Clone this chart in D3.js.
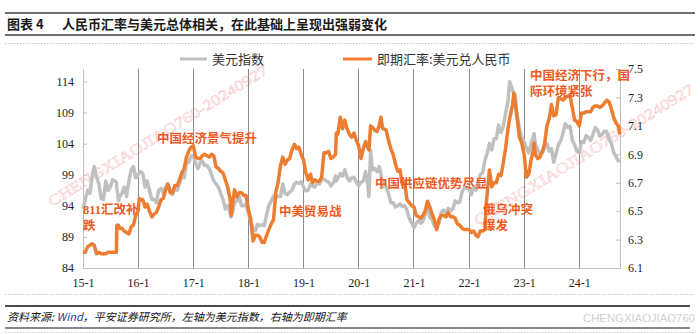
<!DOCTYPE html>
<html><head><meta charset="utf-8">
<script src="https://cdn.jsdelivr.net/npm/d3@7/dist/d3.min.js"></script>
<style>
html,body{margin:0;padding:0;background:#fff;}
svg{display:block;}
</style></head>
<body>
<svg id="c" width="700" height="334"></svg>
<script>
// ---- data ----
const dates = [
"2015-01-01","2015-01-16","2015-02-01","2015-02-16","2015-03-01","2015-03-16","2015-04-01","2015-04-16","2015-05-01","2015-05-16","2015-06-01","2015-06-16","2015-07-01","2015-07-16","2015-08-01","2015-08-10","2015-08-13","2015-08-24","2015-09-01","2015-09-16","2015-10-01","2015-10-16","2015-11-01","2015-11-16","2015-12-01","2015-12-16",
"2016-01-01","2016-01-08","2016-01-16","2016-02-01","2016-02-16","2016-03-01","2016-03-16","2016-04-01","2016-04-16","2016-05-01","2016-05-16","2016-06-01","2016-06-16","2016-07-01","2016-07-16","2016-08-01","2016-08-16","2016-09-01","2016-09-16","2016-10-01","2016-10-16","2016-11-01","2016-11-16","2016-12-01","2016-12-16",
"2017-01-01","2017-01-16","2017-02-01","2017-02-16","2017-03-01","2017-03-16","2017-04-01","2017-04-16","2017-05-01","2017-05-16","2017-06-01","2017-06-16","2017-07-01","2017-07-16","2017-08-01","2017-08-16","2017-09-01","2017-09-08","2017-09-16","2017-10-01","2017-10-16","2017-11-01","2017-11-16","2017-12-01","2017-12-16",
"2018-01-01","2018-01-16","2018-02-01","2018-02-16","2018-03-01","2018-03-16","2018-04-01","2018-04-16","2018-05-01","2018-05-16","2018-06-01","2018-06-16","2018-07-01","2018-07-16","2018-08-01","2018-08-16","2018-09-01","2018-09-16","2018-10-01","2018-10-16","2018-11-01","2018-11-16","2018-12-01","2018-12-16",
"2019-01-01","2019-01-16","2019-02-01","2019-02-16","2019-03-01","2019-03-16","2019-04-01","2019-04-16","2019-05-01","2019-05-16","2019-06-01","2019-06-16","2019-07-01","2019-07-16","2019-08-01","2019-08-06","2019-08-16","2019-09-01","2019-09-16","2019-10-01","2019-10-16","2019-11-01","2019-11-16","2019-12-01","2019-12-16",
"2020-01-01","2020-01-16","2020-02-01","2020-02-16","2020-03-01","2020-03-09","2020-03-20","2020-04-01","2020-04-16","2020-05-01","2020-05-16","2020-05-27","2020-06-08","2020-06-16","2020-07-01","2020-07-16","2020-08-01","2020-08-16","2020-09-01","2020-09-16","2020-10-01","2020-10-16","2020-11-01","2020-11-16","2020-12-01","2020-12-16",
"2021-01-01","2021-01-16","2021-02-01","2021-02-16","2021-03-01","2021-03-16","2021-04-01","2021-04-16","2021-05-01","2021-05-16","2021-06-01","2021-06-16","2021-07-01","2021-07-16","2021-08-01","2021-08-16","2021-09-01","2021-09-16","2021-10-01","2021-10-16","2021-11-01","2021-11-16","2021-12-01","2021-12-16",
"2022-01-01","2022-01-16","2022-02-01","2022-02-16","2022-03-01","2022-03-16","2022-04-01","2022-04-16","2022-04-25","2022-05-01","2022-05-16","2022-06-01","2022-06-16","2022-07-01","2022-07-16","2022-08-01","2022-08-16","2022-09-01","2022-09-16","2022-09-27","2022-10-16","2022-10-25","2022-11-01","2022-11-16","2022-12-01","2022-12-16",
"2023-01-01","2023-01-16","2023-02-01","2023-02-16","2023-03-01","2023-03-08","2023-03-16","2023-04-01","2023-04-16","2023-05-01","2023-05-16","2023-06-01","2023-06-16","2023-07-01","2023-07-16","2023-08-01","2023-08-16","2023-09-01","2023-09-16","2023-10-01","2023-10-16","2023-11-01","2023-11-16","2023-12-01","2023-12-16",
"2024-01-01","2024-01-16","2024-02-01","2024-02-16","2024-03-01","2024-03-16","2024-04-01","2024-04-16","2024-05-01","2024-05-16","2024-06-01","2024-06-16","2024-07-01","2024-07-16","2024-08-01","2024-08-16","2024-09-01","2024-09-16","2024-09-27"
];
// 美元指数 (left axis)
const dollarIndex = [
93.5,95.0,96.5,96.0,98.5,100.3,98.6,97.5,95.2,95.0,98.0,96.5,97.0,98.2,98.0,97.8,97.0,94.8,95.5,96.0,97.0,95.5,98.0,99.8,100.3,98.5,
99.0,99.3,99.5,99.2,97.0,98.0,96.5,95.0,95.0,94.5,96.5,96.8,96.0,97.0,97.5,96.5,95.8,96.8,96.5,97.5,99.0,98.5,100.8,101.0,102.0,
102.0,100.8,100.0,101.0,101.2,100.5,100.5,100.0,99.0,98.0,97.5,97.0,96.0,95.0,93.5,94.0,93.0,92.2,92.8,94.5,94.8,95.5,94.0,94.0,94.3,
92.8,91.5,90.3,90.0,91.0,90.8,91.0,90.8,92.6,94.0,94.8,95.6,95.7,95.5,95.5,97.5,96.0,95.8,96.2,96.5,97.5,97.8,97.6,97.9,
97.0,96.4,96.5,97.5,97.2,97.0,97.8,97.5,98.2,98.3,98.0,97.8,97.2,97.6,98.8,98.0,98.4,99.2,98.8,99.8,98.6,98.0,98.5,98.6,97.8,
97.2,97.8,98.0,99.5,97.5,95.5,102.9,99.8,100.0,99.5,100.3,99.2,97.0,98.0,97.0,96.0,94.5,94.5,93.8,94.0,94.3,93.9,94.0,93.3,92.0,91.3,
90.5,91.2,91.6,91.2,91.5,92.5,93.8,92.2,91.8,90.8,90.6,91.2,93.0,93.3,92.8,93.6,93.2,93.5,94.8,94.5,94.6,96.3,96.8,96.9,
96.6,95.8,97.0,96.5,97.8,99.0,99.3,101.3,102.0,102.5,104.0,103.0,104.8,104.8,107.0,105.8,106.8,109.0,110.8,114.0,112.6,112.0,112.0,108.5,106.5,105.0,
104.3,103.3,102.5,104.0,105.0,105.6,104.0,103.0,102.2,102.5,103.3,104.0,102.8,103.2,101.0,102.5,103.8,104.5,105.8,107.2,106.6,106.8,104.6,103.8,102.8,
102.5,104.3,104.2,105.3,105.0,104.5,105.5,106.6,106.2,105.2,105.5,106.0,105.9,104.8,104.0,102.6,101.9,101.2,101.3
];
// 即期汇率:美元兑人民币 (right axis)
const usdCny = [
6.21,6.21,6.25,6.26,6.27,6.26,6.20,6.21,6.20,6.20,6.20,6.21,6.21,6.21,6.21,6.21,6.40,6.40,6.38,6.38,6.36,6.35,6.34,6.39,6.40,6.47,
6.50,6.59,6.58,6.58,6.53,6.55,6.50,6.46,6.48,6.49,6.53,6.58,6.59,6.65,6.69,6.63,6.63,6.68,6.68,6.72,6.77,6.80,6.88,6.92,6.95,
6.96,6.88,6.87,6.87,6.89,6.90,6.89,6.88,6.90,6.89,6.81,6.80,6.78,6.77,6.72,6.67,6.59,6.47,6.54,6.65,6.60,6.63,6.63,6.61,6.61,
6.51,6.44,6.29,6.33,6.33,6.32,6.28,6.28,6.33,6.37,6.41,6.44,6.63,6.70,6.82,6.88,6.83,6.86,6.87,6.93,6.97,6.94,6.95,6.90,
6.86,6.77,6.72,6.76,6.70,6.72,6.71,6.71,6.74,6.91,6.91,6.92,6.87,6.88,6.90,7.05,7.04,7.16,7.08,7.14,7.08,7.04,7.02,7.05,7.00,
6.96,6.87,6.94,6.99,6.95,6.93,7.10,7.09,7.07,7.06,7.10,7.16,7.08,7.08,7.07,7.00,6.94,6.90,6.83,6.78,6.79,6.69,6.70,6.58,6.56,6.54,
6.53,6.47,6.46,6.45,6.47,6.50,6.57,6.53,6.48,6.44,6.37,6.44,6.47,6.47,6.46,6.49,6.46,6.46,6.45,6.41,6.40,6.38,6.37,6.37,
6.37,6.35,6.36,6.33,6.32,6.36,6.36,6.37,6.55,6.62,6.79,6.67,6.70,6.70,6.76,6.75,6.84,6.95,7.08,7.15,7.25,7.33,7.28,7.15,7.02,6.98,
6.90,6.74,6.76,6.86,6.92,6.98,6.90,6.87,6.88,6.92,6.97,7.10,7.15,7.25,7.17,7.18,7.30,7.29,7.28,7.30,7.31,7.31,7.23,7.14,7.13,
7.10,7.19,7.19,7.20,7.20,7.20,7.23,7.24,7.24,7.23,7.24,7.26,7.28,7.27,7.22,7.16,7.12,7.10,7.04
];
const leftTicks = [84, 89, 94, 99, 104, 109, 114];
const rightTicks = [6.1, 6.3, 6.5, 6.7, 6.9, 7.1, 7.3, 7.5];
const yearTicks = ["2015-01-01","2016-01-01","2017-01-01","2018-01-01","2019-01-01","2020-01-01","2021-01-01","2022-01-01","2023-01-01","2024-01-01"];
const seriesNames = ["美元指数", "即期汇率:美元兑人民币"];
const titleLabel = "图表 4";
const titleText = "人民币汇率与美元总体相关，在此基础上呈现出强弱变化";
const sourceText = ["资料来源: ", "Wind", "，平安证券研究所，左轴为美元指数，右轴为即期汇率"];
const noteTexts = [["811汇改补","跌"],["中国经济景气提升"],["中美贸易战"],["中国供应链优势尽显"],["俄乌冲突","爆发"],["中国经济下行，国","际环境紧张"]];

// ---- layout ----
const noteAnchors = [[83,209],[157,138],[279,211],[375,183],[483,209],[530,75]];
const P = {left:83, right:620, top:69, bottom:268};
const GRAY = "#c0c0c0", ORANGE = "#ED7D31", NOTE = "#EF5A22";
const CJK = "'Noto Sans CJK SC', sans-serif";
const SERIF = "'Liberation Serif', 'Noto Sans CJK SC', serif";

const parse = d3.timeParse("%Y-%m-%d");
const rows = dates.map((d,i)=>({date:parse(d), dxy:dollarIndex[i], cny:usdCny[i]}));

const svg = d3.select("#c");
const x = d3.scaleTime().domain([parse("2015-01-01"), parse("2024-09-27")]).range([P.left, P.right]);
const yL = d3.scaleLinear().domain([84, 116]).range([P.bottom, P.top]);
const yR = d3.scaleLinear().domain([6.1, 7.5]).range([P.bottom, P.top]);

// header
svg.append("line").attr("x1",5).attr("x2",695).attr("y1",13).attr("y2",13).attr("stroke","#6e6e6e").attr("stroke-width",2);
svg.append("line").attr("x1",5).attr("x2",695).attr("y1",35).attr("y2",35).attr("stroke","#6e6e6e").attr("stroke-width",2);
svg.append("line").attr("x1",5).attr("x2",695).attr("y1",43.5).attr("y2",43.5).attr("stroke","#c8c8c8").attr("stroke-width",1).attr("stroke-dasharray","1.5,1.5");
svg.append("text").attr("x",7).attr("y",29).attr("font-family",CJK).attr("font-weight","bold").attr("font-size",13).attr("fill","#1a1a1a").text(titleLabel);
svg.append("text").attr("x",62).attr("y",29).attr("font-family",CJK).attr("font-weight","bold").attr("font-size",13).attr("fill","#1a1a1a").text(titleText);

// watermarks
[[52,207],[478,226]].forEach(([wx,wy])=>{
  svg.append("text").attr("transform",`translate(${wx},${wy}) rotate(-31.7)`)
    .attr("font-family","'Liberation Serif', serif").attr("font-size",15)
    .attr("textLength",255).attr("lengthAdjust","spacingAndGlyphs")
    .attr("fill","#fff2f2").attr("stroke","#f7c4c4").attr("stroke-width",0.4)
    .text("CHENGXIAOJIAO760-20240927");
});

// gridlines
svg.append("g").selectAll("line").data(yearTicks.slice(1).map(parse)).join("line")
  .attr("x1",d=>x(d)).attr("x2",d=>x(d)).attr("y1",P.top).attr("y2",P.bottom)
  .attr("stroke","#8c8c8c").attr("stroke-width",1).attr("shape-rendering","crispEdges");

// axes
const axL = svg.append("g").attr("transform",`translate(${P.left},0)`)
  .call(d3.axisLeft(yL).tickValues(leftTicks).tickSizeInner(-4).tickSizeOuter(0).tickPadding(9).tickFormat(d3.format("d")));
const axR = svg.append("g").attr("transform",`translate(${P.right},0)`)
  .call(d3.axisRight(yR).tickValues(rightTicks).tickSizeInner(-4).tickSizeOuter(0).tickPadding(8).tickFormat(d3.format(".1f")));
const axB = svg.append("g").attr("transform",`translate(0,${P.bottom})`)
  .call(d3.axisBottom(x).tickValues(yearTicks.map(parse)).tickSize(0).tickPadding(10).tickFormat(d3.timeFormat("%y-%-m")));
[axL,axR,axB].forEach(g=>{
  g.select(".domain").attr("stroke","#bfbfbf");
  g.selectAll(".tick line").attr("stroke","#bfbfbf");
  g.selectAll("text").attr("font-family",SERIF).attr("font-size",12).attr("fill","#222");
});

// lines
const lineL = d3.line().x(d=>x(d.date)).y(d=>yL(d.dxy));
const lineR = d3.line().x(d=>x(d.date)).y(d=>yR(d.cny));
svg.append("path").datum(rows).attr("d",lineL).attr("fill","none").attr("stroke",GRAY).attr("stroke-width",3.5).attr("stroke-linejoin","round");
svg.append("path").datum(rows).attr("d",lineR).attr("fill","none").attr("stroke",ORANGE).attr("stroke-width",3.5).attr("stroke-linejoin","round");

// legend
const leg = [[180,207,212,GRAY],[343,372,377,ORANGE]];
leg.forEach(([x1,x2,tx,c],i)=>{
  svg.append("line").attr("x1",x1).attr("x2",x2).attr("y1",59).attr("y2",59).attr("stroke",c).attr("stroke-width",3);
  svg.append("text").attr("x",tx).attr("y",63.5).attr("font-family",CJK).attr("font-size",13).attr("fill","#333").text(seriesNames[i]);
});

// annotations
noteTexts.forEach((lines,i)=>{
  const [ax,ay] = noteAnchors[i];
  lines.forEach((t,j)=>{
    svg.append("text").attr("x",ax).attr("y",ay+4.5+j*16).attr("font-family",SERIF).attr("font-size",12.5)
      .attr("font-weight","bold").attr("fill",NOTE).text(t);
  });
});

// footer
svg.append("line").attr("x1",5).attr("x2",695).attr("y1",294.5).attr("y2",294.5).attr("stroke","#c8c8c8").attr("stroke-dasharray","1.5,1.5");
svg.append("line").attr("x1",5).attr("x2",690).attr("y1",306).attr("y2",306).attr("stroke","#111").attr("stroke-width",1.6);
svg.append("line").attr("x1",5).attr("x2",690).attr("y1",328).attr("y2",328).attr("stroke","#111").attr("stroke-width",1);
svg.append("line").attr("x1",5).attr("x2",695).attr("y1",332.5).attr("y2",332.5).attr("stroke","#c8c8c8").attr("stroke-dasharray","1.5,1.5");
const src = svg.append("text").attr("x",7).attr("y",321).attr("font-family",CJK).attr("font-size",11).attr("font-style","italic").attr("fill","#111");
sourceText.forEach((t,i)=>src.append("tspan").attr("fill", i===1 ? "#1f3d99" : "#111").text(t));
svg.append("text").attr("x",583).attr("y",322).attr("font-family","'Liberation Sans', sans-serif").attr("font-size",11)
  .attr("textLength",112).attr("lengthAdjust","spacingAndGlyphs").attr("fill","#cfcfcf").text("CHENGXIAOJIAO760");
</script>
</body></html>
